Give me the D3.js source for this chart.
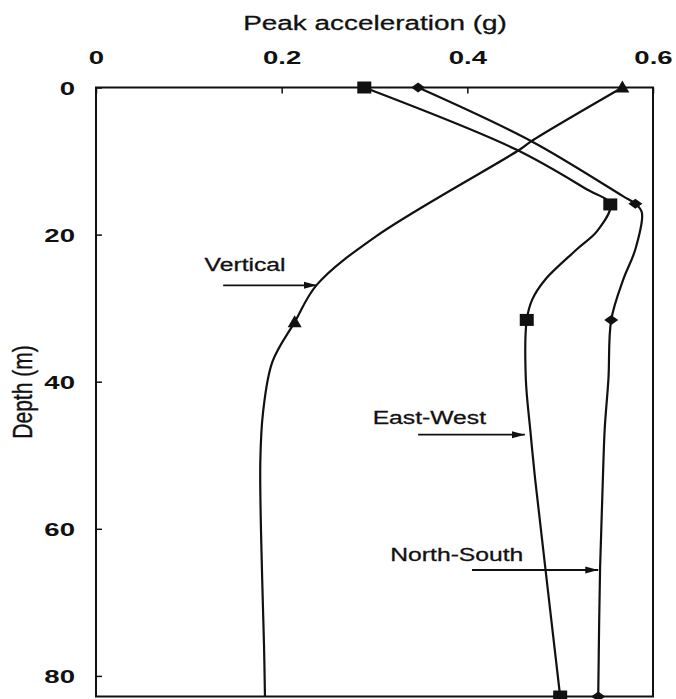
<!DOCTYPE html>
<html>
<head>
<meta charset="utf-8">
<script src="https://cdn.jsdelivr.net/npm/d3@7"></script>
<style>
  body { margin: 0; background: #fff; }
  svg text { font-family: "Liberation Sans", Arial, sans-serif; fill: #111; }
</style>
</head>
<body>
<script>
// depth (m) and peak acceleration (g)
const ewDepth = [0, 8.4, 13.8, 15.9, 19.5, 22.0, 26.1, 28.8, 31.6, 39.6, 46.8, 53.2, 65.3, 82.8];
const ewAcc   = [0.289, 0.452, 0.528, 0.554, 0.540, 0.518, 0.484, 0.470, 0.464, 0.463, 0.468, 0.473, 0.484, 0.500];

const nsDepth = [0, 7.3, 14.8, 15.8, 17.0, 22.0, 26.1, 31.6, 39.6, 46.4, 53.2, 65.3, 82.8];
const nsAcc   = [0.347, 0.469, 0.568, 0.581, 0.588, 0.581, 0.568, 0.555, 0.552, 0.548, 0.546, 0.543, 0.541];

const vDepth = [0, 7.3, 8.4, 20.2, 26.8, 31.9, 37.3, 44.1, 50.9, 66.8, 75.9, 82.8];
const vAcc   = [0.567, 0.469, 0.457, 0.302, 0.238, 0.214, 0.190, 0.180, 0.177, 0.179, 0.181, 0.182];

// measured points (markers)
const ewMarkDepth = [0, 15.9, 31.6, 82.8];
const ewMarkAcc   = [0.289, 0.554, 0.464, 0.500];
const nsMarkDepth = [0, 15.8, 31.6, 82.8];
const nsMarkAcc   = [0.347, 0.581, 0.555, 0.541];
const vMarkDepth  = [0, 31.9];
const vMarkAcc    = [0.567, 0.214];

const xTicks = [0, 0.2, 0.4, 0.6];
const yTicks = [0, 20, 40, 60, 80];

// annotation labels: text, text start (g, depth), arrow from/to g at depth
const labelNames = ["Vertical", "East-West", "North-South"];
const labelAcc   = [0.117, 0.298, 0.317];
const labelDepth = [24.9, 45.8, 64.4];
const arrowFrom  = [0.137, 0.347, 0.405];
const arrowTo    = [0.238, 0.462, 0.541];
const arrowDepth = [26.9, 47.2, 65.6];

const width = 676, height = 699;

const svg = d3.select("body").append("svg")
    .attr("width", width)
    .attr("height", height);

const x = d3.scaleLinear().domain([0, 0.6]).range([96, 653]);
const y = d3.scaleLinear().domain([0, 82.8]).range([87.5, 696.5]);

svg.append("defs").append("marker")
    .attr("id", "arrow")
    .attr("markerUnits", "userSpaceOnUse")
    .attr("markerWidth", 14)
    .attr("markerHeight", 8)
    .attr("refX", 13)
    .attr("refY", 4)
    .attr("orient", "auto")
    .append("path")
    .attr("d", "M0,0.5 L13,4 L0,7.5 Z")
    .attr("fill", "#111");

// frame
svg.append("rect")
    .attr("x", x(0))
    .attr("y", y(0))
    .attr("width", x(0.6) - x(0))
    .attr("height", y(82.8) - y(0))
    .attr("fill", "none")
    .attr("stroke", "#111")
    .attr("stroke-width", 2);

// top axis
const xAxis = svg.append("g")
    .attr("transform", `translate(0,${y(0)})`)
    .call(d3.axisTop(x).tickValues(xTicks).tickSize(-6).tickPadding(24)
        .tickFormat(d => d === 0 ? "0" : d3.format(".1f")(d)));
xAxis.select(".domain").remove();
xAxis.selectAll("line").attr("stroke", "#111").attr("stroke-width", 1.5);
xAxis.selectAll("text")
    .attr("font-size", 19)
    .attr("font-weight", "bold")
    .attr("fill", "#111")
    .attr("transform", "scale(1.45,1)");

// left axis
const yAxis = svg.append("g")
    .attr("transform", `translate(${x(0)},0)`)
    .call(d3.axisLeft(y).tickValues(yTicks).tickSize(-6));
yAxis.select(".domain").remove();
yAxis.selectAll("line").attr("stroke", "#111").attr("stroke-width", 1.5);
yAxis.selectAll("text")
    .attr("x", 0)
    .attr("dy", "0.36em")
    .attr("font-size", 19)
    .attr("font-weight", "bold")
    .attr("fill", "#111")
    .attr("transform", "translate(-21,0) scale(1.45,1)");

// axis titles
svg.append("text")
    .attr("transform", "translate(375,30) scale(1.33,1)")
    .attr("text-anchor", "middle")
    .attr("font-size", 21)
    .attr("stroke", "#111")
    .attr("stroke-width", 0.3)
    .text("Peak acceleration (g)");

svg.append("text")
    .attr("transform", "translate(32,392) rotate(-90) scale(1,1.3)")
    .attr("text-anchor", "middle")
    .attr("font-size", 21)
    .attr("stroke", "#111")
    .attr("stroke-width", 0.3)
    .text("Depth (m)");

// curves
const line = d3.line()
    .x(d => x(d[1]))
    .y(d => y(d[0]))
    .curve(d3.curveCatmullRom.alpha(0.5));

const curves = [
    d3.zip(ewDepth, ewAcc),
    d3.zip(nsDepth, nsAcc),
    d3.zip(vDepth, vAcc)
];

svg.append("g")
    .selectAll("path")
    .data(curves)
    .enter().append("path")
    .attr("d", line)
    .attr("fill", "none")
    .attr("stroke", "#111")
    .attr("stroke-width", 2.2);

// markers
svg.append("g")
    .selectAll("rect")
    .data(d3.zip(ewMarkDepth, ewMarkAcc))
    .enter().append("rect")
    .attr("x", d => x(d[1]) - 7)
    .attr("y", d => y(d[0]) - 6)
    .attr("width", 14)
    .attr("height", 12)
    .attr("fill", "#111");

svg.append("g")
    .selectAll("path")
    .data(d3.zip(nsMarkDepth, nsMarkAcc))
    .enter().append("path")
    .attr("transform", d => `translate(${x(d[1])},${y(d[0])})`)
    .attr("d", "M-7,0 L0,-5 L7,0 L0,5 Z")
    .attr("fill", "#111");

svg.append("g")
    .selectAll("path")
    .data(d3.zip(vMarkDepth, vMarkAcc))
    .enter().append("path")
    .attr("transform", d => `translate(${x(d[1])},${y(d[0])})`)
    .attr("d", "M-7,5 L0,-7 L7,5 Z")
    .attr("fill", "#111");

// annotations
const labels = d3.range(labelNames.length).map(i => ({
    name: labelNames[i], acc: labelAcc[i], depth: labelDepth[i],
    from: arrowFrom[i], to: arrowTo[i], ad: arrowDepth[i]
}));

svg.append("g")
    .selectAll("text")
    .data(labels)
    .enter().append("text")
    .attr("transform", d => `translate(${x(d.acc)},${y(d.depth)}) scale(1.3,1)`)
    .attr("font-size", 19)
    .attr("stroke", "#111")
    .attr("stroke-width", 0.3)
    .text(d => d.name);

svg.append("g")
    .selectAll("line")
    .data(labels)
    .enter().append("line")
    .attr("x1", d => x(d.from))
    .attr("x2", d => x(d.to))
    .attr("y1", d => y(d.ad))
    .attr("y2", d => y(d.ad))
    .attr("stroke", "#111")
    .attr("stroke-width", 1.8)
    .attr("marker-end", "url(#arrow)");
</script>
</body>
</html>
